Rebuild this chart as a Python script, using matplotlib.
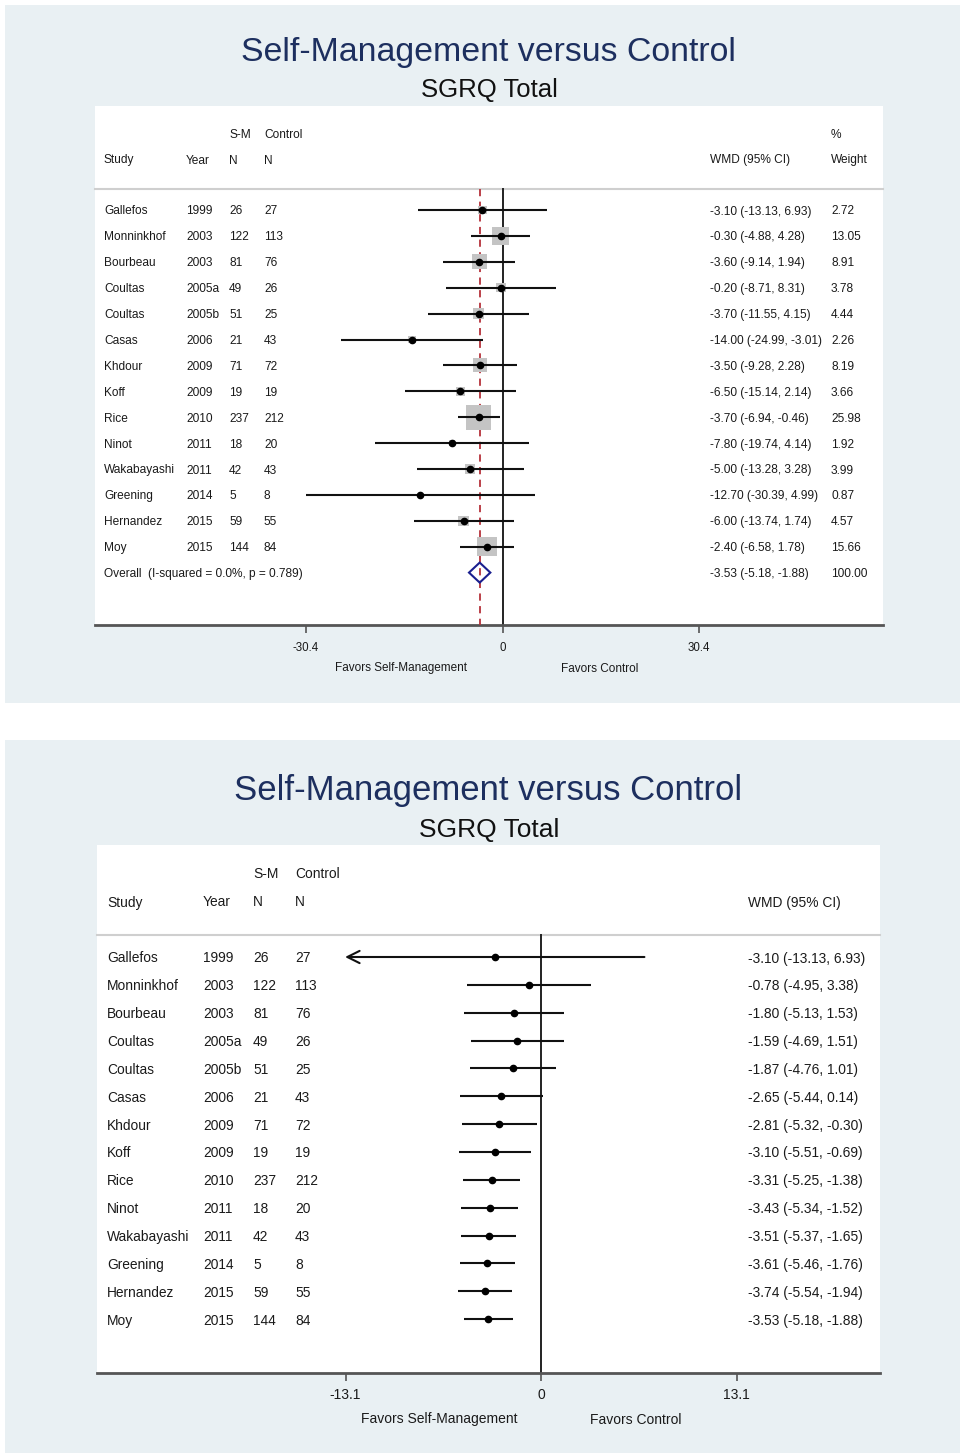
import matplotlib
matplotlib.use("Agg")
import matplotlib.pyplot as plt
from matplotlib.patches import Rectangle, Polygon
from matplotlib.transforms import blended_transform_factory

plt.rcParams['font.family'] = ['Liberation Sans', 'DejaVu Sans']

# ---------------- data ----------------
studies = ["Gallefos", "Monninkhof", "Bourbeau", "Coultas", "Coultas", "Casas", "Khdour",
           "Koff", "Rice", "Ninot", "Wakabayashi", "Greening", "Hernandez", "Moy"]
years = ["1999", "2003", "2003", "2005a", "2005b", "2006", "2009", "2009", "2010",
         "2011", "2011", "2014", "2015", "2015"]
sm_n = [26, 122, 81, 49, 51, 21, 71, 19, 237, 18, 42, 5, 59, 144]
ctrl_n = [27, 113, 76, 26, 25, 43, 72, 19, 212, 20, 43, 8, 55, 84]

wmd_est = [-3.10, -0.30, -3.60, -0.20, -3.70, -14.00, -3.50, -6.50, -3.70, -7.80, -5.00, -12.70, -6.00, -2.40]
wmd_lo = [-13.13, -4.88, -9.14, -8.71, -11.55, -24.99, -9.28, -15.14, -6.94, -19.74, -13.28, -30.39, -13.74, -6.58]
wmd_hi = [6.93, 4.28, 1.94, 8.31, 4.15, -3.01, 2.28, 2.14, -0.46, 4.14, 3.28, 4.99, 1.74, 1.78]
weights = [2.72, 13.05, 8.91, 3.78, 4.44, 2.26, 8.19, 3.66, 25.98, 1.92, 3.99, 0.87, 4.57, 15.66]

overall_est, overall_lo, overall_hi, overall_w = -3.53, -5.18, -1.88, 100.00
overall_label = "Overall  (I-squared = 0.0%, p = 0.789)"

cum_est = [-3.10, -0.78, -1.80, -1.59, -1.87, -2.65, -2.81, -3.10, -3.31, -3.43, -3.51, -3.61, -3.74, -3.53]
cum_lo = [-13.13, -4.95, -5.13, -4.69, -4.76, -5.44, -5.32, -5.51, -5.25, -5.34, -5.37, -5.46, -5.54, -5.18]
cum_hi = [6.93, 3.38, 1.53, 1.51, 1.01, 0.14, -0.30, -0.69, -1.38, -1.52, -1.65, -1.76, -1.94, -1.88]

top_ticks = [-30.4, 0, 30.4]
top_ticklabels = ["-30.4", "0", "30.4"]
bot_ticks = [-13.1, 0, 13.1]
bot_ticklabels = ["-13.1", "0", "13.1"]

title = "Self-Management versus Control"
subtitle = "SGRQ Total"

# ---------------- layout ----------------
W, H = 960, 1455
fig = plt.figure(figsize=(W / 100, H / 100), dpi=100, facecolor="white")

BG = "#e9f0f3"
NAVY = "#1d2f5f"
TXT = "#1a1a1a"
VA = "center_baseline"


def fx(px):
    return px / W


def fy(py):
    return 1 - py / H


def fmt(e, l, h):
    return f"{e:.2f} ({l:.2f}, {h:.2f})"


# panel backgrounds
for (y0, y1) in [(5, 703), (740, 1453)]:
    fig.patches.append(Rectangle((fx(5), fy(y1)), fx(960 - 5), (y1 - y0) / H,
                                 transform=fig.transFigure, facecolor=BG, edgecolor="none", zorder=-10))

# titles
fig.text(fx(488), fy(49), title, ha="center", va=VA, fontsize=24.4, color=NAVY)
fig.text(fx(489), fy(88), subtitle, ha="center", va=VA, fontsize=18.5, color="#111111")
fig.text(fx(488), fy(787), title, ha="center", va=VA, fontsize=25, color=NAVY)
fig.text(fx(489), fy(827), subtitle, ha="center", va=VA, fontsize=19, color="#111111")


def make_axes(x0, x1, y0, y1, xlim, row0, spacing):
    ax = fig.add_axes([fx(x0), fy(y1), (x1 - x0) / W, (y1 - y0) / H])
    ax.set_zorder(5)
    ax.set_facecolor("white")
    ax.set_xlim(*xlim)
    ax.set_ylim((y1 - row0) / spacing, (y0 - row0) / spacing)
    for s in ["top", "left", "right"]:
        ax.spines[s].set_visible(False)
    ax.spines["bottom"].set_color("#555555")
    ax.spines["bottom"].set_linewidth(2.0)
    ax.set_yticks([])
    return ax


# ================= TOP PANEL =================
ax1 = make_axes(95, 883, 106, 625, (-407.5 / 6.464, 380.5 / 6.464), 210, 25.9)
tr1 = blended_transform_factory(ax1.transAxes, ax1.transData)
fs1 = 8.6
cols1 = {"study": (104 - 95) / 788, "year": (186 - 95) / 788, "sm": (229 - 95) / 788,
         "ctrl": (264 - 95) / 788, "wmd": (710 - 95) / 788, "wt": (831 - 95) / 788}
hdr_a, hdr_b, sep1 = (133 - 210) / 25.9, (159 - 210) / 25.9, (189 - 210) / 25.9

for key, lab in [("sm", "S-M"), ("ctrl", "Control"), ("wt", "%")]:
    ax1.text(cols1[key], hdr_a, lab, transform=tr1, fontsize=fs1, va=VA, color=TXT)
for key, lab in [("study", "Study"), ("year", "Year"), ("sm", "N"), ("ctrl", "N"),
                 ("wmd", "WMD (95% CI)"), ("wt", "Weight")]:
    ax1.text(cols1[key], hdr_b, lab, transform=tr1, fontsize=fs1, va=VA, color=TXT)
ax1.plot([0, 1], [sep1, sep1], transform=tr1, color="#cfcfcf", lw=1.5, clip_on=False)

n = len(studies)
for i in range(n):
    ax1.text(cols1["study"], i, studies[i], transform=tr1, fontsize=fs1, va=VA, color=TXT)
    ax1.text(cols1["year"], i, years[i], transform=tr1, fontsize=fs1, va=VA, color=TXT)
    ax1.text(cols1["sm"], i, str(sm_n[i]), transform=tr1, fontsize=fs1, va=VA, color=TXT)
    ax1.text(cols1["ctrl"], i, str(ctrl_n[i]), transform=tr1, fontsize=fs1, va=VA, color=TXT)
    ax1.text(cols1["wmd"], i, fmt(wmd_est[i], wmd_lo[i], wmd_hi[i]), transform=tr1,
             fontsize=fs1, va=VA, color=TXT)
    ax1.text(cols1["wt"], i, f"{weights[i]:.2f}", transform=tr1, fontsize=fs1, va=VA, color=TXT)

ax1.text(cols1["study"], n, overall_label, transform=tr1, fontsize=fs1, va=VA, color=TXT)
ax1.text(cols1["wmd"], n, fmt(overall_est, overall_lo, overall_hi), transform=tr1,
         fontsize=fs1, va=VA, color=TXT)
ax1.text(cols1["wt"], n, f"{overall_w:.2f}", transform=tr1, fontsize=fs1, va=VA, color=TXT)

ybot1 = ax1.get_ylim()[0]
ax1.plot([0, 0], [sep1, ybot1], color="#222222", lw=1.4, zorder=2)
ax1.plot([overall_est, overall_est], [sep1, ybot1], color="#b5323a", lw=1.3,
         ls=(0, (4, 3)), zorder=3)

rows = list(range(n))
ax1.scatter(wmd_est, rows, marker="s", s=[12.45 * w for w in weights], color="#c4c4c4",
            edgecolors="none", zorder=3)
ax1.hlines(rows, wmd_lo, wmd_hi, color="#111111", lw=1.5, zorder=4)
ax1.plot(wmd_est, rows, "o", color="black", ms=4.5, zorder=5)

hd = 10 / 25.9
ax1.add_patch(Polygon([(overall_lo, n), (overall_est, n - hd), (overall_hi, n), (overall_est, n + hd)],
                      closed=True, fill=False, edgecolor="#1a1f8f", lw=1.5, zorder=5))

ax1.set_xticks(top_ticks)
ax1.set_xticklabels(top_ticklabels)
ax1.tick_params(axis="x", direction="out", length=6, width=1.2, color="#555555",
                labelsize=8.3, labelcolor=TXT, pad=6)
trx1 = blended_transform_factory(ax1.transData, ax1.transAxes)
ax1.text((401 - 502.5) / 6.464, (625 - 667) / 519, "Favors Self-Management", transform=trx1,
         ha="center", va=VA, fontsize=8.5, color=TXT)
ax1.text((600 - 502.5) / 6.464, (625 - 667) / 519, "Favors Control", transform=trx1,
         ha="center", va=VA, fontsize=8.5, color=TXT)

# ================= BOTTOM PANEL =================
sc2 = 391 / 26.2
ax2 = make_axes(97, 880, 845, 1373, ((97 - 541) / sc2, (880 - 541) / sc2), 957, 27.85)
tr2 = blended_transform_factory(ax2.transAxes, ax2.transData)
fs2 = 9.9
cols2 = {"study": (107 - 97) / 783, "year": (203 - 97) / 783, "sm": (253 - 97) / 783,
         "ctrl": (295 - 97) / 783, "wmd": (748 - 97) / 783}
hdr2_a, hdr2_b, sep2 = (873 - 957) / 27.85, (901 - 957) / 27.85, (935 - 957) / 27.85

for key, lab in [("sm", "S-M"), ("ctrl", "Control")]:
    ax2.text(cols2[key], hdr2_a, lab, transform=tr2, fontsize=fs2, va=VA, color=TXT)
for key, lab in [("study", "Study"), ("year", "Year"), ("sm", "N"), ("ctrl", "N"),
                 ("wmd", "WMD (95% CI)")]:
    ax2.text(cols2[key], hdr2_b, lab, transform=tr2, fontsize=fs2, va=VA, color=TXT)
ax2.plot([0, 1], [sep2, sep2], transform=tr2, color="#cfcfcf", lw=1.5, clip_on=False)

for i in range(n):
    ax2.text(cols2["study"], i, studies[i], transform=tr2, fontsize=fs2, va=VA, color=TXT)
    ax2.text(cols2["year"], i, years[i], transform=tr2, fontsize=fs2, va=VA, color=TXT)
    ax2.text(cols2["sm"], i, str(sm_n[i]), transform=tr2, fontsize=fs2, va=VA, color=TXT)
    ax2.text(cols2["ctrl"], i, str(ctrl_n[i]), transform=tr2, fontsize=fs2, va=VA, color=TXT)
    ax2.text(cols2["wmd"], i, fmt(cum_est[i], cum_lo[i], cum_hi[i]), transform=tr2,
             fontsize=fs2, va=VA, color=TXT)

ybot2 = ax2.get_ylim()[0]
ax2.plot([0, 0], [sep2, ybot2], color="#222222", lw=1.4, zorder=2)

xmin_plot = bot_ticks[0]
for i in range(n):
    lo = cum_lo[i]
    if lo < xmin_plot:
        ax2.annotate("", xy=(lo, i), xytext=(cum_hi[i], i),
                     arrowprops=dict(arrowstyle="->", color="#111111", lw=1.5,
                                     mutation_scale=22, shrinkA=0, shrinkB=0), zorder=4)
    else:
        ax2.hlines(i, lo, cum_hi[i], color="#111111", lw=1.5, zorder=4)
ax2.plot(cum_est, rows, "o", color="black", ms=4.5, zorder=5)

ax2.set_xticks(bot_ticks)
ax2.set_xticklabels(bot_ticklabels)
ax2.tick_params(axis="x", direction="out", length=6, width=1.2, color="#555555",
                labelsize=10, labelcolor=TXT, pad=5)
trx2 = blended_transform_factory(ax2.transData, ax2.transAxes)
ax2.text((439 - 541) / sc2, (1373 - 1418) / 528, "Favors Self-Management", transform=trx2,
         ha="center", va=VA, fontsize=10, color=TXT)
ax2.text((636 - 541) / sc2, (1373 - 1418) / 528, "Favors Control", transform=trx2,
         ha="center", va=VA, fontsize=10, color=TXT)

fig.savefig("out.png", dpi=100, facecolor="white")
